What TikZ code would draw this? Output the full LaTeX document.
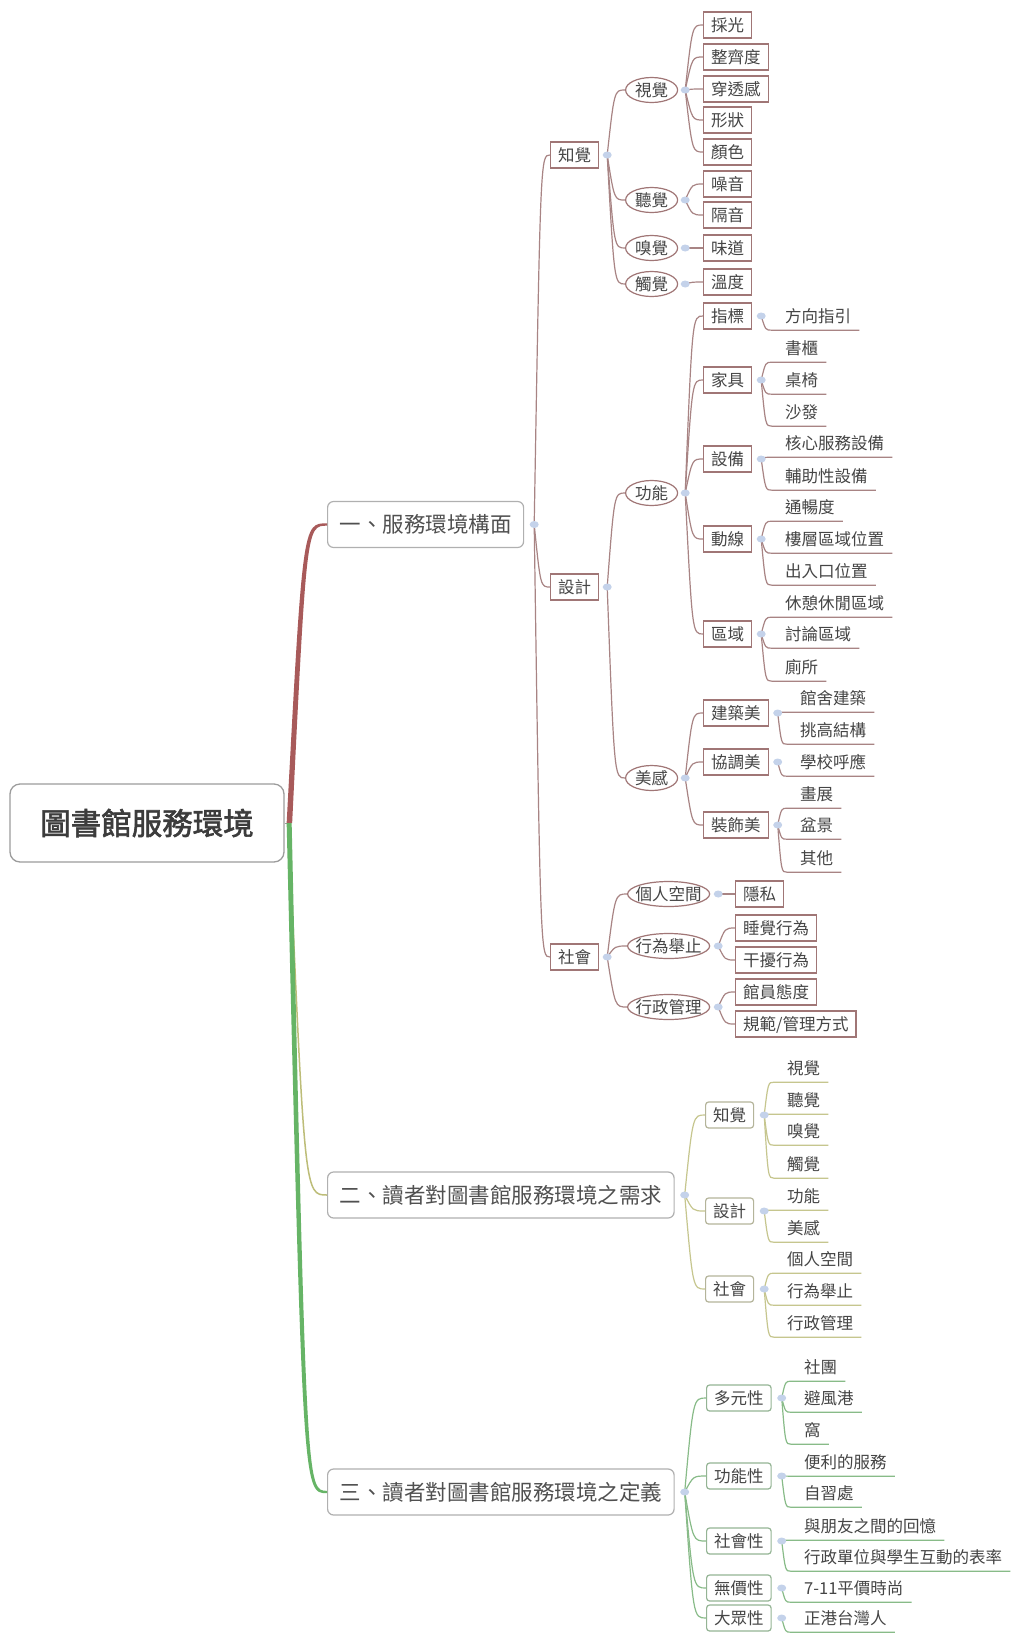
\documentclass[tikz,border=0pt]{standalone}
\usepackage{fontspec}
\newfontfamily\cjk{Noto Sans CJK TC}
\newfontfamily\cjkb[FakeBold=2]{Noto Sans CJK TC}
\usetikzlibrary{shapes.geometric,calc}
\definecolor{txt}{HTML}{454545}
\definecolor{txt2}{HTML}{505050}
\definecolor{txt3}{HTML}{3C3C3C}
\definecolor{bc1}{HTML}{A07676}
\definecolor{lc1}{HTML}{A88484}
\definecolor{bc2}{HTML}{B4B49A}
\definecolor{lc2}{HTML}{C6C68E}
\definecolor{bc3}{HTML}{94B494}
\definecolor{lc3}{HTML}{88BB88}
\definecolor{dotc}{HTML}{C4D2EA}
\definecolor{redb}{HTML}{A85A5A}
\definecolor{greenb}{HTML}{66B466}
\definecolor{oliveb}{HTML}{BDBD78}
\definecolor{tb}{HTML}{B0B0B0}
\definecolor{rb}{HTML}{9C9C9C}
\newcommand\mmnode[8]{%
  \node[#2] (#1) at (#3,#4) {#5};
  \coordinate (d#1) at ([xshift=#8]#1.east);
  \draw[#7] (#6) to[mm] (#1.west);}
\newcommand\mmleaf[6]{%
  \node[leaf] (#1) at (#2-8,#3) {#4};
  \coordinate (u#1) at ([xshift=-5pt]#1.south west);
  \draw[#6] (#5) to[mm] (u#1) -- (#1.south east);}
\begin{document}
\begin{tikzpicture}[x=1pt,y=-1pt,
  every node/.style={font=\cjk\fontsize{16.5}{18}\selectfont, text=txt},
  base/.style={inner xsep=7.5pt, inner ysep=0pt, minimum height=26pt, text height=14pt, text depth=1.4pt, anchor=west, line width=1.2pt},
  box1/.style={base, draw=bc1},
  ell1/.style={base, ellipse, draw=bc1, inner xsep=-4pt, minimum height=25pt, minimum width=52pt},
  box2/.style={base, draw=bc2, rounded corners=3pt},
  box3/.style={base, draw=bc3, rounded corners=3pt},
  leaf/.style={inner xsep=8pt, inner ysep=6.3pt, text height=14pt, text depth=1.4pt, anchor=west},
  c1/.style={draw=lc1, line width=1.2pt},
  c2/.style={draw=lc2, line width=1.2pt},
  c3/.style={draw=lc3, line width=1.2pt},
  topic/.style={draw=tb, line width=1.2pt, rounded corners=6pt, anchor=west, font=\cjk\fontsize{21.5}{24}\selectfont, text=txt2, inner xsep=12pt, inner ysep=0pt, minimum height=46pt},
  rootn/.style={draw=rb, line width=1.3pt, rounded corners=10pt, minimum width=274pt, minimum height=78pt, font=\cjkb\fontsize{30.5}{34}\selectfont, text=txt3},
  mm/.style={to path={.. controls ($(\tikztotarget -| \tikztostart)!0.4!(\tikztotarget)$) .. (\tikztotarget) \tikztonodes}}
]
\useasboundingbox (0,0) rectangle (1014,1636);
\fill[white] (0,0) rectangle (1014,1636);

% root and main topics
\node[rootn] (r) at (147,823) {圖書館服務環境};
\node[topic] (y1) at (327,524.5) {一、服務環境構面};
\node[topic] (y2) at (327,1195) {二、讀者對圖書館服務環境之需求};
\node[topic] (y3) at (327,1492) {三、讀者對圖書館服務環境之定義};
\coordinate (dy1) at ([xshift=10pt]y1.east);
\coordinate (dy2) at ([xshift=10pt]y2.east);
\coordinate (dy3) at ([xshift=10pt]y3.east);

% root connectors
\draw[rb, line width=1pt] (r.east) -- ([xshift=5pt]r.east);
\fill[redb] ([xshift=2pt]r.east) .. controls ($(y1.west -| r.east)+(18,-1.2)$) .. ([yshift=1.2pt]y1.west)
  -- ([yshift=-1.2pt]y1.west) .. controls ($(y1.west -| r.east)+(22,1.2)$) .. ([xshift=7.5pt]r.east) -- cycle;
\draw[oliveb, line width=1.5pt] ([xshift=4pt]r.east) .. controls ($(y2.west -| r.east)+(20,0)$) .. (y2.west);
\fill[greenb] ([xshift=2pt]r.east) .. controls ($(y3.west -| r.east)+(18,1.2)$) .. ([yshift=-1.2pt]y3.west)
  -- ([yshift=1.2pt]y3.west) .. controls ($(y3.west -| r.east)+(22,-1.2)$) .. ([xshift=7pt]r.east) -- cycle;

% ---------- branch 1 ----------
\mmnode{zj}{box1}{550}{155}{知覺}{dy1}{c1}{8pt}
\mmnode{sj}{box1}{550}{587}{設計}{dy1}{c1}{8pt}
\mmnode{sh}{box1}{550}{957}{社會}{dy1}{c1}{8pt}

\mmnode{vs}{ell1}{625}{90}{視覺}{dzj}{c1}{7pt}
\mmnode{ts}{ell1}{625}{200}{聽覺}{dzj}{c1}{7pt}
\mmnode{xs}{ell1}{625}{248}{嗅覺}{dzj}{c1}{7pt}
\mmnode{cs}{ell1}{625}{284}{觸覺}{dzj}{c1}{7pt}
\mmnode{gn}{ell1}{625}{493}{功能}{dsj}{c1}{7pt}
\mmnode{mg}{ell1}{625}{778}{美感}{dsj}{c1}{7pt}
\mmnode{gr}{ell1}{627}{894}{個人空間}{dsh}{c1}{8pt}
\mmnode{xw}{ell1}{627}{946}{行為舉止}{dsh}{c1}{8pt}
\mmnode{xz}{ell1}{627}{1007}{行政管理}{dsh}{c1}{8pt}

\mmnode{a1}{box1}{703}{25}{採光}{dvs}{c1}{9pt}
\mmnode{a2}{box1}{703}{57}{整齊度}{dvs}{c1}{9pt}
\mmnode{a3}{box1}{703}{89}{穿透感}{dvs}{c1}{9pt}
\mmnode{a4}{box1}{703}{120}{形狀}{dvs}{c1}{9pt}
\mmnode{a5}{box1}{703}{152}{顏色}{dvs}{c1}{9pt}
\mmnode{a6}{box1}{703}{184}{噪音}{dts}{c1}{9pt}
\mmnode{a7}{box1}{703}{215}{隔音}{dts}{c1}{9pt}
\mmnode{a8}{box1}{703}{248}{味道}{dxs}{c1}{9pt}
\mmnode{a9}{box1}{703}{282}{溫度}{dcs}{c1}{9pt}

\mmnode{f1}{box1}{703}{316}{指標}{dgn}{c1}{9pt}
\mmnode{f2}{box1}{703}{380}{家具}{dgn}{c1}{9pt}
\mmnode{f3}{box1}{703}{459}{設備}{dgn}{c1}{9pt}
\mmnode{f4}{box1}{703}{539}{動線}{dgn}{c1}{9pt}
\mmnode{f5}{box1}{703}{634}{區域}{dgn}{c1}{9pt}
\mmnode{f6}{box1}{703}{713}{建築美}{dmg}{c1}{9pt}
\mmnode{f7}{box1}{703}{762}{協調美}{dmg}{c1}{9pt}
\mmnode{f8}{box1}{703}{825}{裝飾美}{dmg}{c1}{9pt}

\mmnode{e1}{box1}{735}{894}{隱私}{dgr}{c1}{9pt}
\mmnode{e2}{box1}{735}{928}{睡覺行為}{dxw}{c1}{9pt}
\mmnode{e3}{box1}{735}{960}{干擾行為}{dxw}{c1}{9pt}
\mmnode{e4}{box1}{735}{992}{館員態度}{dxz}{c1}{9pt}
\mmnode{e5}{box1}{735}{1024}{規範/管理方式}{dxz}{c1}{9pt}

\mmleaf{p1}{785}{316}{方向指引}{df1}{c1}
\mmleaf{p2}{785}{348}{書櫃}{df2}{c1}
\mmleaf{p3}{785}{380}{桌椅}{df2}{c1}
\mmleaf{p4}{785}{412}{沙發}{df2}{c1}
\mmleaf{p5}{785}{443}{核心服務設備}{df3}{c1}
\mmleaf{p6}{785}{476}{輔助性設備}{df3}{c1}
\mmleaf{p7}{785}{507}{通暢度}{df4}{c1}
\mmleaf{p8}{785}{539}{樓層區域位置}{df4}{c1}
\mmleaf{p9}{785}{571}{出入口位置}{df4}{c1}
\mmleaf{p10}{785}{603}{休憩休閒區域}{df5}{c1}
\mmleaf{p11}{785}{634}{討論區域}{df5}{c1}
\mmleaf{p12}{785}{667}{廁所}{df5}{c1}
\mmleaf{p13}{800}{698}{館舍建築}{df6}{c1}
\mmleaf{p14}{800}{730}{挑高結構}{df6}{c1}
\mmleaf{p15}{800}{762}{學校呼應}{df7}{c1}
\mmleaf{p16}{800}{794}{畫展}{df8}{c1}
\mmleaf{p17}{800}{825}{盆景}{df8}{c1}
\mmleaf{p18}{800}{858}{其他}{df8}{c1}

% ---------- branch 2 ----------
\mmnode{g1}{box2}{705}{1115}{知覺}{dy2}{c2}{10pt}
\mmnode{g2}{box2}{705}{1211}{設計}{dy2}{c2}{10pt}
\mmnode{g3}{box2}{705}{1289}{社會}{dy2}{c2}{10pt}
\mmleaf{q1}{787}{1068}{視覺}{dg1}{c2}
\mmleaf{q2}{787}{1100}{聽覺}{dg1}{c2}
\mmleaf{q3}{787}{1131}{嗅覺}{dg1}{c2}
\mmleaf{q4}{787}{1164}{觸覺}{dg1}{c2}
\mmleaf{q5}{787}{1196}{功能}{dg2}{c2}
\mmleaf{q6}{787}{1228}{美感}{dg2}{c2}
\mmleaf{q7}{787}{1259}{個人空間}{dg3}{c2}
\mmleaf{q8}{787}{1291}{行為舉止}{dg3}{c2}
\mmleaf{q9}{787}{1323}{行政管理}{dg3}{c2}

% ---------- branch 3 ----------
\mmnode{h1}{box3}{706}{1398}{多元性}{dy3}{c3}{10pt}
\mmnode{h2}{box3}{706}{1476}{功能性}{dy3}{c3}{10pt}
\mmnode{h3}{box3}{706}{1541}{社會性}{dy3}{c3}{10pt}
\mmnode{h4}{box3}{706}{1588}{無價性}{dy3}{c3}{10pt}
\mmnode{h5}{box3}{706}{1618}{大眾性}{dy3}{c3}{10pt}
\mmleaf{s1}{804}{1367}{社團}{dh1}{c3}
\mmleaf{s2}{804}{1398}{避風港}{dh1}{c3}
\mmleaf{s3}{804}{1430}{窩}{dh1}{c3}
\mmleaf{s4}{804}{1462}{便利的服務}{dh2}{c3}
\mmleaf{s5}{804}{1493}{自習處}{dh2}{c3}
\mmleaf{s6}{804}{1526}{與朋友之間的回憶}{dh3}{c3}
\mmleaf{s7}{804}{1557}{行政單位與學生互動的表率}{dh3}{c3}
\mmleaf{s8}{804}{1588}{7-11平價時尚}{dh4}{c3}
\mmleaf{s9}{804}{1618}{正港台灣人}{dh5}{c3}

% collapse dots
\foreach \d in {dy1,dy2,dy3,dzj,dsj,dsh,dvs,dts,dxs,dcs,dgn,dmg,dgr,dxw,dxz,df1,df2,df3,df4,df5,df6,df7,df8,dg1,dg2,dg3,dh1,dh2,dh3,dh4,dh5}
  \fill[dotc] (\d) ellipse (4.5pt and 3.5pt);
\end{tikzpicture}
\end{document}
